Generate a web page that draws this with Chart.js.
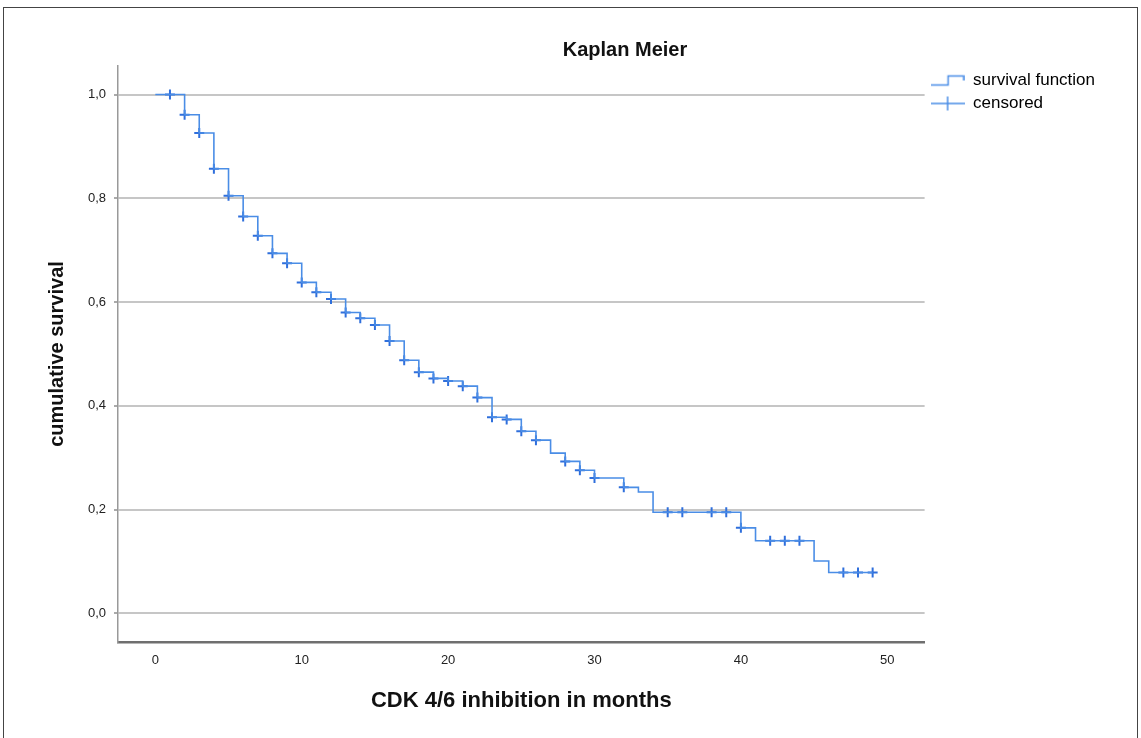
<!DOCTYPE html>
<html>
<head>
<meta charset="utf-8">
<title>Kaplan Meier</title>
<script src="https://cdn.jsdelivr.net/npm/chart.js@4.4.1/dist/chart.umd.min.js"></script>
<style>
  html, body { margin: 0; padding: 0; background: #fff; overflow: hidden; }
  #frame { position: absolute; left: 3px; top: 7px; width: 1133px; height: 780px; border: 1px solid #444; }
  #wrap { position: absolute; left: 0; top: 0; width: 1141px; height: 738px; }
</style>
</head>
<body>
<div id="frame"></div>
<div id="wrap"><canvas id="km"></canvas></div>
<script>
const chartTitle = 'Kaplan Meier';
const xTitle = 'CDK 4/6 inhibition in months';
const yTitle = 'cumulative survival';
const legendLabels = ['survival function', 'censored'];

// step function (month of each drop, level after it)
const stepMonths = [0, 2, 3, 4, 5, 6, 7, 8, 9, 10, 11, 12, 13, 14, 15, 16, 17, 18, 19, 20,
  21, 22, 23, 24, 25, 26, 27, 28, 29, 30, 32, 33, 34, 40, 41, 45, 46, 49];
const survival = [1.0, 0.961, 0.926, 0.857, 0.805, 0.765, 0.728, 0.694, 0.675, 0.638, 0.619,
  0.606, 0.580, 0.569, 0.556, 0.525, 0.488, 0.465, 0.453, 0.448, 0.438, 0.416, 0.378, 0.374,
  0.351, 0.334, 0.309, 0.293, 0.276, 0.261, 0.243, 0.234, 0.195, 0.165, 0.140, 0.101, 0.079, 0.079];

// months with a censor mark
const censorMonths = [1, 2, 3, 4, 5, 6, 7, 8, 9, 10, 11, 12, 13, 14, 15, 16, 17, 18, 19, 20,
  21, 22, 23, 24, 25, 26, 28, 29, 30, 32, 35, 36, 38, 39, 40, 42, 43, 44, 47, 48, 49];

const xTicks = [0, 10, 20, 30, 40, 50];
const yTicks = [0, 0.2, 0.4, 0.6, 0.8, 1.0];
const yTickLabels = ['0,0', '0,2', '0,4', '0,6', '0,8', '1,0'];

const lineBlue = '#4a8de6';
const markBlue = '#2f6fdc';

function survivalAt(t) {
  let s = survival[0];
  for (let i = 0; i < stepMonths.length; i++) {
    if (stepMonths[i] <= t) s = survival[i];
  }
  return s;
}

// little legend pictures
function stepIcon() {
  const c = document.createElement('canvas');
  c.width = 34; c.height = 16;
  const g = c.getContext('2d');
  g.strokeStyle = lineBlue; g.lineWidth = 1.5;
  g.beginPath();
  g.moveTo(0, 12.5); g.lineTo(17.5, 12.5); g.lineTo(17.5, 3.5); g.lineTo(33, 3.5); g.lineTo(33, 8);
  g.stroke();
  return c;
}
function crossIcon() {
  const c = document.createElement('canvas');
  c.width = 34; c.height = 16;
  const g = c.getContext('2d');
  g.strokeStyle = lineBlue; g.lineWidth = 1.5;
  g.beginPath();
  g.moveTo(0, 8); g.lineTo(34, 8);
  g.moveTo(17, 1); g.lineTo(17, 15);
  g.stroke();
  return c;
}
const legendIcons = [stepIcon(), crossIcon()];

const titlePlugin = {
  id: 'kmTitle',
  afterDraw(chart) {
    const ctx = chart.ctx;
    ctx.save();
    ctx.font = 'bold 20px "Liberation Sans", Arial, sans-serif';
    ctx.fillStyle = '#111';
    ctx.textAlign = 'center';
    ctx.textBaseline = 'middle';
    ctx.fillText(chartTitle, 625, 50);
    ctx.restore();
  }
};

Chart.defaults.font.family = '"Liberation Sans", Arial, sans-serif';

var ctx = document.getElementById('km').getContext('2d');
var kmChart = new Chart(ctx, {
  type: 'scatter',
  data: {
    datasets: [{
      label: legendLabels[0],
      data: stepMonths.map((t, i) => ({ x: t, y: survival[i] })),
      showLine: true,
      stepped: true,
      borderColor: lineBlue,
      borderWidth: 1.6,
      pointRadius: 0,
      fill: false
    }, {
      label: legendLabels[1],
      data: censorMonths.map(t => ({ x: t, y: survivalAt(t) })),
      showLine: false,
      pointStyle: 'cross',
      pointRadius: 5,
      pointBorderColor: markBlue,
      pointBorderWidth: 2
    }]
  },
  options: {
    responsive: true,
    maintainAspectRatio: false,
    animation: false,
    layout: { padding: { top: 66, left: 0, right: 36, bottom: 0 } },
    plugins: {
      tooltip: { enabled: false },
      title: { display: false },
      legend: {
        position: 'right',
        align: 'start',
        labels: {
          usePointStyle: true,
          pointStyleWidth: 34,
          padding: 6,
          color: '#111',
          font: { size: 17 },
          generateLabels: chart => legendLabels.map((t, i) => ({
            text: t,
            pointStyle: legendIcons[i],
            datasetIndex: i,
            lineWidth: 0,
            fillStyle: 'rgba(0,0,0,0)',
            strokeStyle: 'rgba(0,0,0,0)'
          }))
        }
      }
    },
    scales: {
      x: {
        type: 'linear',
        min: -2.55,
        max: 52.55,
        afterBuildTicks: s => { s.ticks = xTicks.map(v => ({ value: v })); },
        afterFit: s => { s.height = 738 - 642; },
        grid: { display: false, drawTicks: false },
        border: { display: true, color: '#6f6f6f', width: 2.5 },
        ticks: { padding: 11, maxRotation: 0, color: '#222', font: { size: 13 } },
        title: {
          display: true, text: xTitle, color: '#111',
          font: { size: 22, weight: 'bold' },
          padding: { top: 0, bottom: 24 }
        }
      },
      y: {
        type: 'linear',
        min: -0.055,
        max: 1.055,
        afterBuildTicks: s => { s.ticks = yTicks.map(v => ({ value: v })); },
        afterFit: s => { s.width = 118; },
        grid: { color: '#c6c6c6', lineWidth: 2, drawTicks: true, tickLength: 4, tickColor: '#aaa' },
        border: { display: true, color: '#999', width: 1.5 },
        ticks: { padding: 8, color: '#222', font: { size: 13 }, callback: (v, i) => yTickLabels[i] },
        title: {
          display: true, text: yTitle, color: '#111',
          font: { size: 20, weight: 'bold' },
          padding: { top: 45, bottom: 0 }
        }
      }
    }
  },
  plugins: [titlePlugin]
});
</script>
</body>
</html>
